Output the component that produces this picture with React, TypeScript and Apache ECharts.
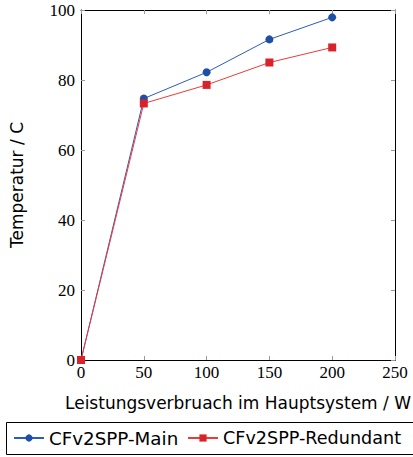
import React, { useEffect, useRef } from "react";
import * as echarts from "echarts";

const xValues = [0, 50, 100, 150, 200];
const mainTemps = [0, 74.7, 82.2, 91.6, 97.9];
const redundantTemps = [0, 73.3, 78.6, 85.0, 89.3];
const seriesNames = ["CFv2SPP-Main", "CFv2SPP-Redundant"];

const BLUE = "#1d4fa6";
const RED = "#d9232a";

export default function App() {
  const ref = useRef<HTMLDivElement>(null);
  useEffect(() => {
    if (!ref.current) return;
    const chart = echarts.init(ref.current, null, { renderer: "svg" });
    const serif = "'Liberation Serif', 'DejaVu Serif', serif";
    const sans = "'DejaVu Sans', sans-serif";
    const tick = { show: true, inside: true, length: 4, lineStyle: { color: "#999", width: 1 } };
    const legendBase = {
      top: 429,
      padding: 0,
      itemWidth: 30,
      itemHeight: 9,
      itemGap: 0,
    };
    chart.setOption({
      animation: false,
      grid: { left: 79, right: 16, top: 10, bottom: 97, containLabel: false },
      xAxis: [
        {
          type: "value",
          min: 0,
          max: 250,
          interval: 50,
          position: "bottom",
          axisLine: { show: true, onZero: false, lineStyle: { color: "#000", width: 1 } },
          axisTick: tick,
          splitLine: { show: false },
          axisLabel: { color: "#000", fontFamily: serif, fontSize: 17, margin: 4 },
          name: "Leistungsverbruach im Hauptsystem / W",
          nameLocation: "middle",
          nameGap: 34,
          nameTextStyle: { color: "#000", fontFamily: sans, fontSize: 17 },
        },
        {
          type: "value",
          min: 0,
          max: 250,
          interval: 50,
          position: "top",
          axisLine: { show: true, onZero: false, lineStyle: { color: "#000", width: 1 } },
          axisTick: tick,
          splitLine: { show: false },
          axisLabel: { show: false },
        },
      ],
      yAxis: [
        {
          type: "value",
          min: 0,
          max: 100,
          interval: 20,
          position: "left",
          axisLine: { show: true, onZero: false, lineStyle: { color: "#000", width: 1 } },
          axisTick: tick,
          splitLine: { show: false },
          axisLabel: { color: "#000", fontFamily: serif, fontSize: 17, margin: 6 },
          name: "Temperatur / C",
          nameLocation: "middle",
          nameGap: 56,
          nameTextStyle: { color: "#000", fontFamily: sans, fontSize: 17 },
        },
        {
          type: "value",
          min: 0,
          max: 100,
          interval: 20,
          position: "right",
          axisLine: { show: true, onZero: false, lineStyle: { color: "#000", width: 1 } },
          axisTick: tick,
          splitLine: { show: false },
          axisLabel: { show: false },
        },
      ],
      legend: [
        {
          ...legendBase,
          left: 13,
          textStyle: { color: "#000", fontFamily: sans, fontSize: 18.3 },
          data: [seriesNames[0]],
        },
        {
          ...legendBase,
          left: 187,
          textStyle: { color: "#000", fontFamily: sans, fontSize: 17.6 },
          data: [seriesNames[1]],
        },
      ],
      graphic: [
        {
          type: "rect",
          shape: { x: 6.5, y: 422.5, width: 420, height: 32 },
          style: { fill: "none", stroke: "#000", lineWidth: 1 },
          silent: true,
        },
      ],
      series: [
        {
          name: seriesNames[0],
          type: "line",
          data: xValues.map((x, i) => [x, mainTemps[i]]),
          symbol: "circle",
          symbolSize: 8,
          itemStyle: { color: BLUE },
          lineStyle: { color: "#2a5cbf", width: 1 },
          z: 3,
        },
        {
          name: seriesNames[1],
          type: "line",
          data: xValues.map((x, i) => [x, redundantTemps[i]]),
          symbol: "rect",
          symbolSize: 8,
          itemStyle: { color: RED },
          lineStyle: { color: "#ee3a3a", width: 1 },
          z: 4,
        },
      ],
    });
    return () => chart.dispose();
  }, []);
  return <div ref={ref} style={{ width: 413, height: 457, position: "absolute", left: 0, top: 0 }} />;
}
